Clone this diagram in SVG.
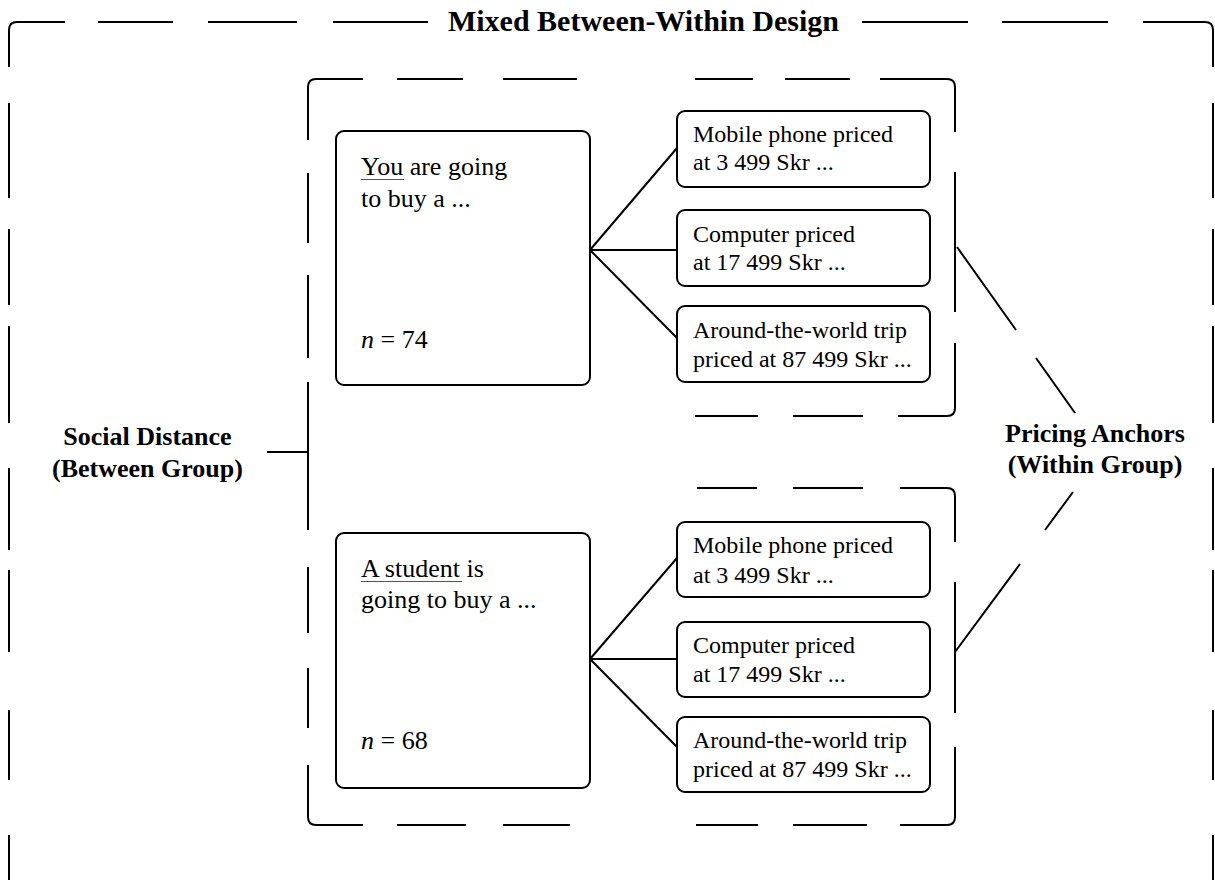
<svg xmlns="http://www.w3.org/2000/svg" width="1215" height="880" viewBox="0 0 1215 880">
<style>
.ln{fill:none;stroke:#000;stroke-width:2;stroke-linecap:butt}
.box{fill:#fff;stroke:#000;stroke-width:2}
.t{font-family:"Liberation Serif","Times New Roman",serif;fill:#000}
.big{font-size:26px}
.sm{font-size:24px}
.lab{font-size:26px;font-weight:bold;text-anchor:middle}
.ttl{font-size:30px;font-weight:bold;text-anchor:middle}
.ul{stroke:#555;stroke-width:1.2}
</style>
<rect width="1215" height="880" fill="#fff"/>
<g id="outer-frame" class="ln">
<path d="M9,67 V30 Q9,22 17,22 H65"/>
<path d="M98,22 H173 M208,22 H297 M333,22 H428 M862,22 H968 M1002,22 H1108"/>
<path d="M1143,22 H1205 Q1213,22 1213,30 V67"/>
<path d="M9,103 V198 M9,229 V305 M9,326 V423 M9,468 V550 M9,570 V652 M9,710 V780 M9,835 V890"/>
<path d="M1213,103 V198 M1213,229 V305 M1213,326 V423 M1213,468 V550 M1213,570 V652 M1213,710 V780 M1213,835 V890"/>
</g>
<g id="title"><text class="t ttl" x="643.5" y="31">Mixed Between-Within Design</text></g>
<g id="social-distance"><text class="t lab" x="147.5" y="445">Social Distance</text><text class="t lab" x="147.5" y="477">(Between Group)</text></g>
<g id="pricing-anchors"><text class="t lab" x="1095" y="442">Pricing Anchors</text><text class="t lab" x="1095" y="473">(Within Group)</text></g>
<g id="group-frames" class="ln">
<path d="M308,140 V87 Q308,79 316,79 H363 M397,79 H463 M503,79 H577 M695,79 H753 M785,79 H850"/>
<path d="M880,79 H947 Q955,79 955,87 V132 M955,172 V312"/>
<path d="M955,343 V408 Q955,416 947,416 H898 M863,416 H793 M758,416 H695"/>
<path d="M308,173 V243 M308,275 V358 M308,382 V530 M308,567 V633 M308,668 V728"/>
<path d="M308,765 V817 Q308,825 316,825 H363 M397,825 H466 M503,825 H570 M696,825 H758 M793,825 H867"/>
<path d="M900,825 H947 Q955,825 955,817 V747 M955,713 V582"/>
<path d="M955,542 V496 Q955,488 947,488 H900 M863,488 H793 M757,488 H697"/>
</g>
<g id="connectors" class="ln">
<path d="M267,452 H308"/>
<path d="M590,250 L677,148 M590,250 H677 M590,250 L677,338"/>
<path d="M590,659 L677,558 M590,659 H677 M590,659 L677,747"/>
<path d="M957,247 L1016,330 M1036,358 L1075,413"/>
<path d="M955,652 L1020,564 M1045,530 L1073,492"/>
</g>
<g id="self-condition">
<rect class="box" x="336" y="131" width="254" height="254" rx="8"/>
<text class="t big" x="361" y="175">You are going</text>
<line class="ul" x1="361" y1="179.5" x2="404" y2="179.5"/>
<text class="t big" x="361" y="207">to buy a ...</text>
<text class="t big" x="361" y="348"><tspan font-style="italic">n</tspan> = 74</text>
</g>
<g id="other-condition">
<rect class="box" x="336" y="533" width="254" height="255" rx="8"/>
<text class="t big" x="361" y="577">A student is</text>
<line class="ul" x1="361" y1="581.5" x2="462" y2="581.5"/>
<text class="t big" x="361" y="608">going to buy a ...</text>
<text class="t big" x="361" y="749"><tspan font-style="italic">n</tspan> = 68</text>
</g>
<g id="self-phone"><rect class="box" x="677" y="111" width="253" height="76" rx="8"/><text class="t sm" x="693" y="142">Mobile phone priced</text><text class="t sm" x="693" y="170">at 3 499 Skr ...</text></g>
<g id="self-computer"><rect class="box" x="677" y="210" width="253" height="76" rx="8"/><text class="t sm" x="693" y="242">Computer priced</text><text class="t sm" x="693" y="270">at 17 499 Skr ...</text></g>
<g id="self-trip"><rect class="box" x="677" y="306" width="253" height="76" rx="8"/><text class="t sm" x="693" y="338">Around-the-world trip</text><text class="t sm" x="693" y="367">priced at 87 499 Skr ...</text></g>
<g id="other-phone"><rect class="box" x="677" y="522" width="253" height="75" rx="8"/><text class="t sm" x="693" y="553">Mobile phone priced</text><text class="t sm" x="693" y="583">at 3 499 Skr ...</text></g>
<g id="other-computer"><rect class="box" x="677" y="622" width="253" height="75" rx="8"/><text class="t sm" x="693" y="653">Computer priced</text><text class="t sm" x="693" y="682">at 17 499 Skr ...</text></g>
<g id="other-trip"><rect class="box" x="677" y="717" width="253" height="75" rx="8"/><text class="t sm" x="693" y="748">Around-the-world trip</text><text class="t sm" x="693" y="777">priced at 87 499 Skr ...</text></g>
</svg>
